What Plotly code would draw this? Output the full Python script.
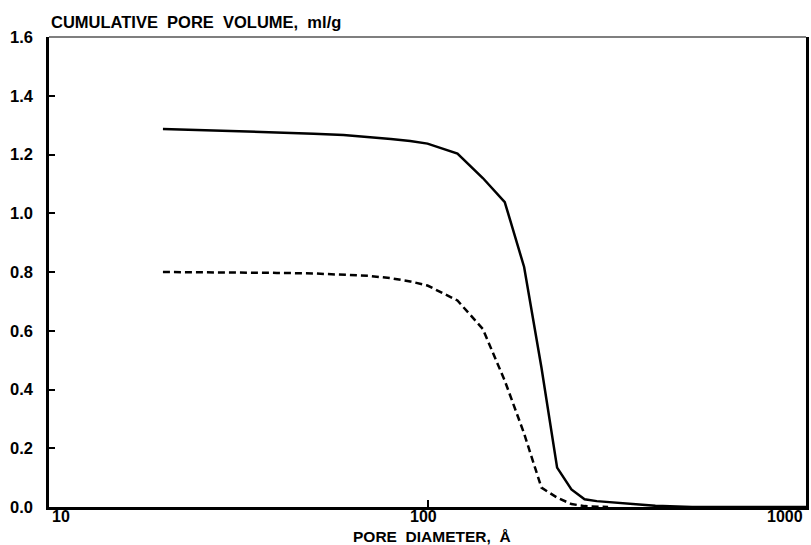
import math
import plotly.graph_objects as go

# Pore diameter (Å) and cumulative pore volume (ml/g) for the two samples
diameter_a = [20, 30, 40, 50, 60, 70, 80, 90, 100, 120, 140, 160, 180, 200,
              220, 240, 260, 280, 300, 350, 400, 500, 1000]
volume_a = [1.287, 1.281, 1.276, 1.271, 1.266, 1.260, 1.253, 1.246, 1.237,
            1.203, 1.120, 1.038, 0.817, 0.475, 0.134, 0.060, 0.026, 0.020,
            0.017, 0.010, 0.004, 0.0, 0.0]

diameter_b = [20, 30, 40, 50, 60, 70, 80, 90, 100, 120, 140, 160, 180, 200,
              220, 240, 260, 300]
volume_b = [0.800, 0.799, 0.797, 0.795, 0.792, 0.787, 0.779, 0.768, 0.754,
            0.703, 0.606, 0.430, 0.250, 0.066, 0.032, 0.010, 0.003, 0.0]

x_ticks = [10, 100, 1000]
x_tick_labels = ["10", "100", "1000"]
y_ticks = [0.0, 0.2, 0.4, 0.6, 0.8, 1.0, 1.2, 1.4, 1.6]
y_tick_labels = ["0.0", "0.2", "0.4", "0.6", "0.8", "1.0", "1.2", "1.4", "1.6"]

y_title = "CUMULATIVE  PORE  VOLUME,  ml/g"
x_title = "PORE  DIAMETER,  Å"

FONT = "Liberation Sans, Arial, sans-serif"

fig = go.Figure()
fig.add_trace(go.Scatter(
    x=diameter_a, y=volume_a, mode="lines",
    line=dict(color="black", width=2.5),
    showlegend=False, hoverinfo="skip",
))
fig.add_trace(go.Scatter(
    x=diameter_b, y=volume_b, mode="lines",
    line=dict(color="black", width=2.5, dash="7px,4px"),
    showlegend=False, hoverinfo="skip",
))

fig.update_layout(
    width=811, height=545,
    margin=dict(l=49, r=2, t=37, b=38),
    paper_bgcolor="white", plot_bgcolor="white",
    showlegend=False,
)

fig.update_xaxes(
    type="log", range=[1, 3],
    tickvals=x_ticks, ticktext=["", "", ""],
    ticks="inside", ticklen=7, tickwidth=1.5, tickcolor="black",
    showline=True, linecolor="black", linewidth=2.8, mirror=False,
    showgrid=False, zeroline=False,
)
fig.update_yaxes(
    range=[0, 1.6],
    tickvals=y_ticks, ticktext=y_tick_labels,
    ticks="inside", ticklen=6, tickwidth=1.5, tickcolor="black",
    tickfont=dict(family=FONT, size=16.5, color="black", weight="bold"),
    ticklabelstandoff=10,
    showline=True, linecolor="black", linewidth=2.5, mirror=True,
    showgrid=False, zeroline=False,
)

# thin upper border of the frame
fig.add_shape(type="line", xref="paper", yref="paper", x0=0, x1=1, y0=1, y1=1,
              line=dict(color="black", width=1.2))

# x tick labels (log axis: annotation positions are in log10 units),
# pulled inward at the two ends of the axis
label_shift = [12, -4, -21]
for val, txt, dx in zip(x_ticks, x_tick_labels, label_shift):
    fig.add_annotation(
        x=math.log10(val), xref="x", y=0, yref="paper", text=txt,
        showarrow=False, xanchor="center", yanchor="top", xshift=dx, yshift=0,
        borderpad=0,
        font=dict(family=FONT, size=16, color="black", weight="bold"),
    )

fig.add_annotation(
    x=0.5, xref="paper", y=0, yref="paper", text=x_title, showarrow=False,
    xanchor="center", yanchor="top", xshift=4, yshift=-20, borderpad=0,
    font=dict(family=FONT, size=15.5, color="black", weight="bold"),
)
fig.add_annotation(
    x=0, xref="paper", y=1, yref="paper", text=y_title, showarrow=False,
    xanchor="left", yanchor="bottom", xshift=0, yshift=4,
    font=dict(family=FONT, size=16.5, color="black", weight="bold"),
)

fig.write_html("out.html")
